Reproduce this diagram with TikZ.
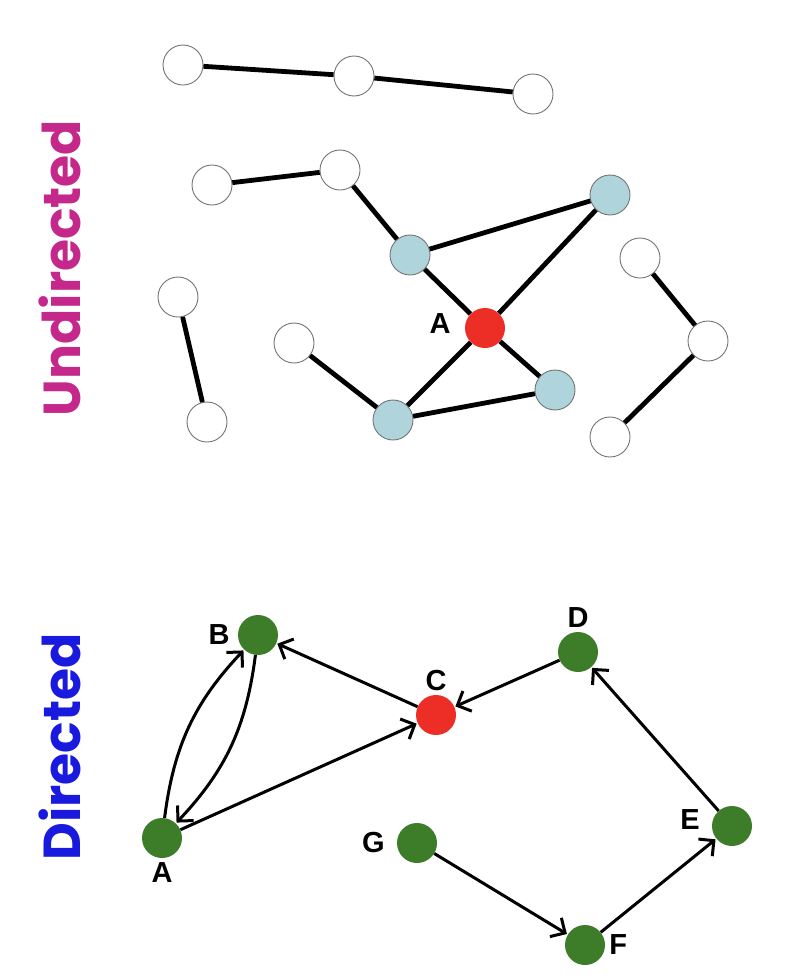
\documentclass[tikz,border=0pt]{standalone}
\usepackage{fontspec}
\setmainfont{Liberation Sans}
\newfontfamily\titlefont{Poppins}
\usepackage{xcolor}
\usetikzlibrary{arrows.meta}
\definecolor{vgreen}{RGB}{61,125,42}
\definecolor{vred}{RGB}{236,46,38}
\definecolor{vblue}{RGB}{176,212,220}
\definecolor{undircol}{RGB}{196,40,138}
\definecolor{dircol}{RGB}{26,26,222}

\begin{document}
\begin{tikzpicture}[x=1pt,y=-1pt,
  vtx/.style={circle,draw=black!55,line width=0.9pt,fill=white,minimum size=40pt,inner sep=0pt},
  nbr/.style={vtx,fill=vblue},
  hub/.style={circle,fill=vred,minimum size=40pt,inner sep=0pt},
  gvtx/.style={circle,fill=vgreen,minimum size=40pt,inner sep=0pt},
  edge/.style={line width=4.8pt},
  arc/.style={-{Straight Barb[length=11pt,width=22pt,line width=3pt]},line width=3pt,shorten >=1pt},
  every label/.style={font=\bfseries\fontsize{29}{29}\selectfont,inner sep=4pt},
  side/.style={font=\titlefont\fontsize{52}{52}\selectfont\bfseries,rotate=90}]
  \useasboundingbox (0,0) rectangle (794,975);
  % side titles
  \node[side,text=undircol] (tu) at (60,268) {Undirected};
  \node[side,text=dircol] (td) at (60,747) {Directed};
  % undirected graph
  \node[vtx] (u1) at (183,65) {};
  \node[vtx] (u2) at (354,76) {};
  \node[vtx] (u3) at (533,94) {};
  \node[vtx] (u4) at (212,185) {};
  \node[vtx] (u5) at (340,170) {};
  \node[vtx] (u6) at (294,343) {};
  \node[vtx] (u7) at (178,297) {};
  \node[vtx] (u8) at (207,422) {};
  \node[vtx] (u9) at (640,258) {};
  \node[vtx] (u10) at (708,341) {};
  \node[vtx] (u11) at (610,437) {};
  \node[nbr] (b1) at (410,255) {};
  \node[nbr] (b2) at (610,195) {};
  \node[nbr] (b3) at (555,390) {};
  \node[nbr] (b4) at (393,420) {};
  \node[hub,label={[xshift=-10pt,yshift=4pt]left:A}] (ua) at (485,328) {};
  \draw[edge] (u1) -- (u2) -- (u3);
  \draw[edge] (u4) -- (u5) -- (b1);
  \draw[edge] (b1) -- (b2);
  \draw[edge] (b1) -- (ua) -- (b3);
  \draw[edge] (b2) -- (ua) -- (b4);
  \draw[edge] (b4) -- (b3);
  \draw[edge] (u6) -- (b4);
  \draw[edge] (u7) -- (u8);
  \draw[edge] (u9) -- (u10) -- (u11);
  % directed graph
  \node[gvtx,label=below:A] (a) at (162,838) {};
  \node[gvtx,label={[xshift=-4pt]left:B}] (b) at (258,635) {};
  \node[hub,label=above:C] (c) at (436,715) {};
  \node[gvtx,label=above:D] (d) at (578,652) {};
  \node[gvtx,label={[xshift=-8pt,yshift=6pt]left:E}] (e) at (732,826) {};
  \node[gvtx,label=right:F] (f) at (585,945) {};
  \node[gvtx,label={[xshift=-8pt]left:G}] (g) at (417,843) {};
  \draw[arc] (a) to[bend left=18] (b);
  \draw[arc] (b) to[bend left=18] (a);
  \draw[arc] (a) -- (c);
  \draw[arc] (c) -- (b);
  \draw[arc] (d) -- (c);
  \draw[arc] (e) -- (d);
  \draw[arc] (f) -- (e);
  \draw[arc] (g) -- (f);
\end{tikzpicture}
\end{document}
